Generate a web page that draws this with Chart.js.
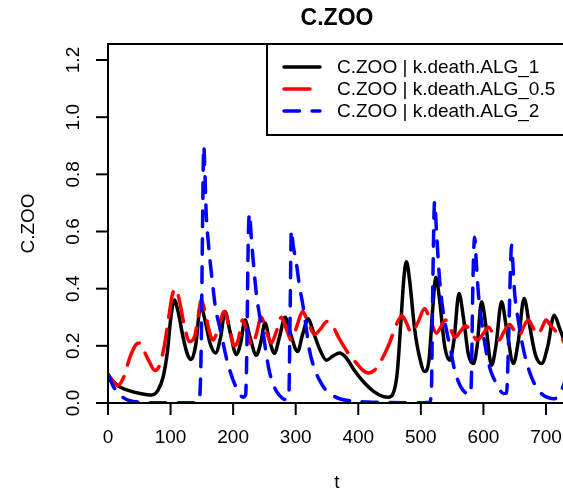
<!DOCTYPE html>
<html>
<head>
<meta charset="utf-8">
<script src="https://cdn.jsdelivr.net/npm/chart.js@4.4.1/dist/chart.umd.min.js"></script>
<style>
html,body{margin:0;padding:0;background:#fff;overflow:hidden;width:563px;height:491px;}
canvas{display:block;}
</style>
</head>
<body>
<canvas id="c" width="572" height="491"></canvas>
<script>
// ---- data ----
const xTicks = [0, 100, 200, 300, 400, 500, 600, 700];
const yTicks = [0.0, 0.2, 0.4, 0.6, 0.8, 1.0, 1.2];
const yTickLabels = ["0.0", "0.2", "0.4", "0.6", "0.8", "1.0", "1.2"];
const seriesNames = ["C.ZOO | k.death.ALG_1", "C.ZOO | k.death.ALG_0.5", "C.ZOO | k.death.ALG_2"];

const tBlack = [0,10,20,40,60,70,80,88,95,100,106,112,120,127,133,140,148,155,163,172,180,187,195,205,212,219,227,237,244,251,258,266,274,283,292,303,311,320,328,338,349,360,370,380,395,410,425,440,448,455,462,468,473,477,482,490,498,506,513,519,524,530,538,546,553,561,568,576,584,590,597,604,613,620,629,637,648,656,665,673,683,693,703,713,722,732];
const vBlack = [0.10,0.072,0.055,0.039,0.03,0.028,0.045,0.09,0.18,0.29,0.36,0.32,0.23,0.17,0.152,0.20,0.34,0.29,0.21,0.175,0.23,0.32,0.25,0.17,0.21,0.29,0.23,0.167,0.21,0.28,0.22,0.174,0.23,0.30,0.24,0.18,0.24,0.295,0.25,0.19,0.15,0.165,0.175,0.16,0.11,0.07,0.04,0.022,0.02,0.03,0.10,0.28,0.44,0.494,0.43,0.26,0.16,0.11,0.15,0.33,0.44,0.36,0.20,0.15,0.22,0.383,0.30,0.17,0.138,0.20,0.354,0.27,0.132,0.20,0.354,0.26,0.138,0.22,0.366,0.28,0.17,0.138,0.20,0.307,0.26,0.20];

const tRed = [0,8,16,25,35,45,50,58,67,75,82,90,97,103,108,114,122,130,138,144,149,155,162,168,176,186,194,202,208,215,222,230,237,245,253,261,269,277,285,293,302,311,320,330,340,350,358,366,375,387,397,407,416,426,437,450,460,470,477,485,495,506,515,525,533,540,547,555,563,572,581,590,599,608,616,625,633,642,650,657,665,672,680,687,695,700,708,716,724,732];
const vRed = [0.10,0.075,0.062,0.09,0.16,0.205,0.21,0.18,0.14,0.114,0.13,0.20,0.30,0.38,0.40,0.36,0.27,0.215,0.23,0.30,0.36,0.32,0.25,0.22,0.26,0.32,0.26,0.20,0.22,0.29,0.25,0.20,0.24,0.30,0.25,0.21,0.25,0.30,0.26,0.22,0.27,0.32,0.28,0.24,0.26,0.285,0.275,0.24,0.205,0.165,0.14,0.115,0.105,0.115,0.15,0.21,0.27,0.305,0.28,0.245,0.28,0.33,0.29,0.245,0.27,0.29,0.26,0.23,0.25,0.27,0.245,0.22,0.24,0.265,0.24,0.22,0.25,0.275,0.25,0.235,0.27,0.29,0.26,0.24,0.27,0.29,0.27,0.25,0.23,0.20];

const tBlue = [0,8,16,25,35,50,80,140,146,149,151,153,155,157,160,163,167,172,178,183,190,200,208,216,220,222,224,226,229,232,237,242,248,253,258,265,274,284,289,291,293,296,301,306,312,317,322,330,338,350,360,370,390,420,500,514,517,519,522,525,530,535,541,548,554,563,573,579,581,583,586,589,592,598,605,612,621,632,637,640,643,645,648,650,655,661,668,677,686,696,705,712,720,727,732];
const vBlue = [0.10,0.06,0.035,0.018,0.008,0.003,0.001,0.001,0.01,0.2,0.6,0.90,0.80,0.66,0.57,0.50,0.42,0.33,0.27,0.22,0.15,0.08,0.04,0.02,0.03,0.2,0.55,0.663,0.58,0.50,0.384,0.31,0.244,0.17,0.11,0.06,0.027,0.012,0.02,0.3,0.605,0.55,0.49,0.41,0.336,0.26,0.185,0.12,0.08,0.04,0.025,0.015,0.007,0.003,0.001,0.003,0.05,0.4,0.704,0.6,0.43,0.33,0.255,0.18,0.115,0.06,0.033,0.03,0.1,0.4,0.58,0.48,0.383,0.27,0.173,0.11,0.068,0.033,0.035,0.2,0.45,0.552,0.45,0.383,0.3,0.22,0.15,0.09,0.05,0.027,0.018,0.015,0.025,0.056,0.09];

const xMax = 732;
const yMax = 1.256;

// ---- styles ----
const colors = ["#000000", "#ff0000", "#0000ff"];
const dashes = [[], [26, 12], [15.5, 12.5]];
const FONT = '"Liberation Sans", Arial, sans-serif';

function pts(t, v) { return t.map((x, i) => ({x: x, y: v[i]})); }

const rPlugin = {
  id: 'rdecor',
  afterDraw(chart) {
    const ctx = chart.ctx;
    const a = chart.chartArea;
    const xs = chart.scales.x, ys = chart.scales.y;
    ctx.save();
    // box
    ctx.strokeStyle = '#000';
    ctx.lineWidth = 2;
    ctx.setLineDash([]);
    ctx.strokeRect(a.left, a.top, a.right - a.left, a.bottom - a.top);
    // y ticks
    ctx.fillStyle = '#000';
    ctx.font = '19px ' + FONT;
    ctx.textAlign = 'center';
    ctx.textBaseline = 'middle';
    yTicks.forEach((v, i) => {
      const y = ys.getPixelForValue(v);
      ctx.beginPath();
      ctx.moveTo(a.left - 12, y);
      ctx.lineTo(a.left, y);
      ctx.stroke();
      ctx.save();
      ctx.translate(74, y);
      ctx.rotate(-Math.PI / 2);
      ctx.fillText(yTickLabels[i], 0, 0);
      ctx.restore();
    });
    // x ticks
    xTicks.forEach(t => {
      const x = xs.getPixelForValue(t);
      ctx.beginPath();
      ctx.moveTo(x, a.bottom);
      ctx.lineTo(x, a.bottom + 12);
      ctx.stroke();
      ctx.fillText(String(t), x, 438);
    });
    // axis titles
    ctx.fillText('t', (a.left + a.right) / 2, 483);
    ctx.save();
    ctx.translate(29, (a.top + a.bottom) / 2);
    ctx.rotate(-Math.PI / 2);
    ctx.fillText('C.ZOO', 0, 0);
    ctx.restore();
    // main title
    ctx.font = 'bold 23px ' + FONT;
    ctx.fillText('C.ZOO', (a.left + a.right) / 2, 19);
    // legend
    const lx = 267, ly = a.top, lw = a.right - lx, lh = 91;
    ctx.fillStyle = '#fff';
    ctx.fillRect(lx, ly, lw, lh);
    ctx.strokeStyle = '#000';
    ctx.lineWidth = 2;
    ctx.strokeRect(lx, ly, lw, lh);
    const rows = [67, 89, 111];
    ctx.font = '19px ' + FONT;
    ctx.textAlign = 'left';
    seriesNames.forEach((name, i) => {
      ctx.save();
      ctx.strokeStyle = colors[i];
      ctx.lineWidth = 3.5;
      ctx.lineCap = 'round';
      ctx.setLineDash(dashes[i]);
      ctx.beginPath();
      ctx.moveTo(284, rows[i]);
      ctx.lineTo(320, rows[i]);
      ctx.stroke();
      ctx.restore();
      ctx.fillStyle = '#000';
      ctx.fillText(name, 337, rows[i] + 1);
    });
    ctx.restore();
  }
};

const mk = (i, t, v, order) => ({
  label: seriesNames[i],
  data: pts(t, v),
  borderColor: colors[i],
  backgroundColor: colors[i],
  borderWidth: 3.5,
  borderDash: dashes[i],
  borderCapStyle: 'round',
  borderJoinStyle: 'round',
  pointRadius: 0,
  fill: false,
  cubicInterpolationMode: 'monotone',
  order: order
});

new Chart(document.getElementById('c'), {
  type: 'line',
  data: {
    datasets: [
      mk(0, tBlack, vBlack, 3),
      mk(1, tRed, vRed, 2),
      mk(2, tBlue, vBlue, 1)
    ]
  },
  options: {
    responsive: false,
    animation: false,
    devicePixelRatio: 1,
    layout: { padding: { left: 108, right: 6, top: 44, bottom: 88 } },
    plugins: { legend: { display: false }, title: { display: false }, tooltip: { enabled: false } },
    scales: {
      x: { type: 'linear', min: 0, max: xMax, display: false },
      y: { type: 'linear', min: 0, max: yMax, display: false }
    }
  },
  plugins: [rPlugin]
});
</script>
</body>
</html>
